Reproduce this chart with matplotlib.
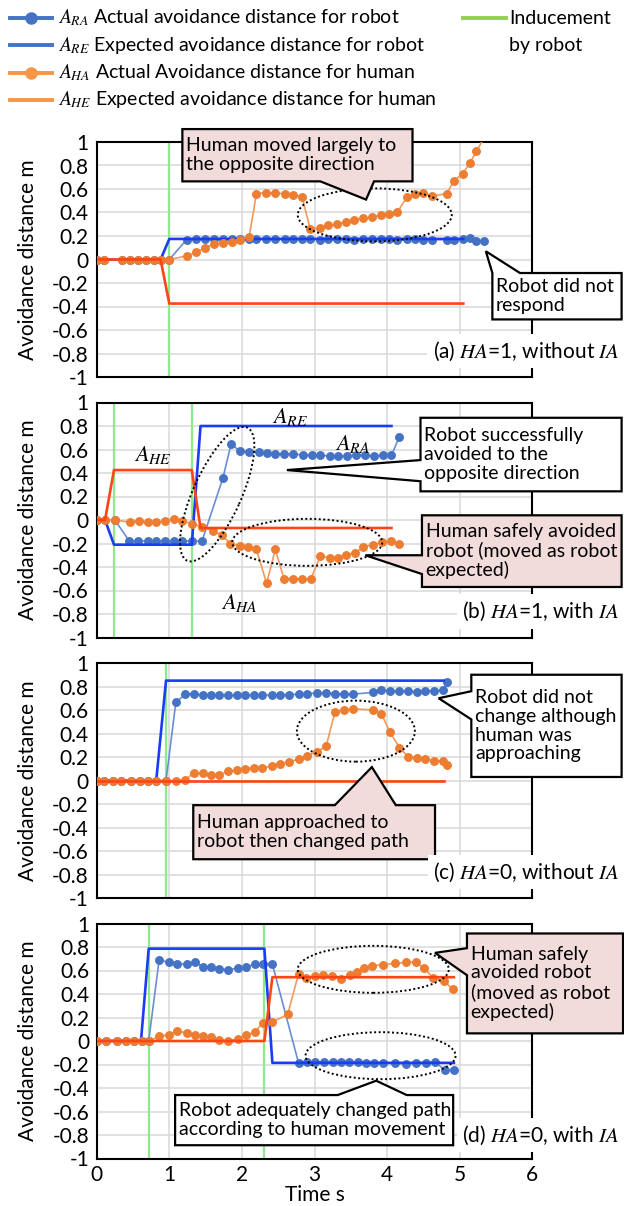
import numpy as np
import matplotlib
matplotlib.use("Agg")
import matplotlib.pyplot as plt
from matplotlib.patches import Polygon, Ellipse
from matplotlib.lines import Line2D
from matplotlib.transforms import ScaledTranslation

plt.rcParams["font.family"] = ["Lato", "DejaVu Sans"]
plt.rcParams["mathtext.fontset"] = "stix"

DPI = 100
W, H = 624, 1206

# ---- (a) HA=1, without IA ----
a_t = [0, 0.10, 0.35, 0.46, 0.57, 0.68, 0.79, 0.88, 1.00, 1.24, 1.37, 1.49, 1.61, 1.74,
       1.86, 1.97, 2.10, 2.20, 2.33, 2.46, 2.59, 2.71, 2.83, 2.94, 3.07, 3.19, 3.31, 3.43,
       3.55, 3.67, 3.79, 3.92, 4.03, 4.14, 4.27, 4.38, 4.50, 4.62, 4.82, 4.92, 5.04, 5.14,
       5.23, 5.34]
a_robot = [0, 0, 0, 0, 0, 0, 0, 0, 0, 0.17, 0.175, 0.175, 0.175, 0.175,
           0.175, 0.175, 0.175, 0.175, 0.175, 0.175, 0.175, 0.175, 0.175, 0.175, 0.17, 0.175, 0.175, 0.175,
           0.17, 0.175, 0.175, 0.175, 0.175, 0.17, 0.175, 0.175, 0.17, 0.17, 0.17, 0.17, 0.175, 0.18,
           0.155, 0.155]
a_human = [0, 0, 0, 0, 0, 0, 0, 0, 0, 0.03, 0.06, 0.10, 0.13, 0.14,
           0.15, 0.17, 0.19, 0.56, 0.57, 0.565, 0.56, 0.55, 0.53, 0.26, 0.27, 0.29, 0.30, 0.32,
           0.34, 0.35, 0.36, 0.38, 0.39, 0.40, 0.53, 0.56, 0.57, 0.54, 0.56, 0.67, 0.73, 0.82,
           0.92, 1.04]
a_re_t = [0, 0.88, 1.00, 5.05]
a_re = [0, 0, 0.175, 0.175]
a_he_t = [0, 0.88, 1.00, 5.05]
a_he = [0, 0, -0.375, -0.375]
a_induce = [1.0]

# ---- (b) HA=1, with IA ----
b_robot_t = [0, 0.11, 0.25, 0.45, 0.57, 0.70, 0.82, 0.94, 1.06, 1.18, 1.31, 1.45, 1.74, 1.85,
             1.97, 2.10, 2.23, 2.34, 2.46, 2.58, 2.71, 2.84, 2.96, 3.08, 3.21, 3.33, 3.45, 3.57,
             3.70, 3.82, 3.94, 4.06, 4.17]
b_robot = [0, 0, 0, -0.18, -0.18, -0.18, -0.18, -0.18, -0.18, -0.18, -0.18, -0.18, 0.36, 0.645,
           0.59, 0.58, 0.575, 0.57, 0.565, 0.56, 0.56, 0.555, 0.55, 0.55, 0.545, 0.545, 0.545, 0.55,
           0.55, 0.545, 0.55, 0.55, 0.71]
b_human_t = [0, 0.11, 0.25, 0.46, 0.58, 0.70, 0.82, 0.94, 1.06, 1.18, 1.31, 1.45, 1.60, 1.72,
             1.84, 1.97, 2.09, 2.20, 2.34, 2.46, 2.58, 2.71, 2.83, 2.95, 3.08, 3.21, 3.33, 3.44,
             3.56, 3.67, 3.80, 3.93, 4.05, 4.16]
b_human = [0, 0, 0, -0.02, -0.01, -0.02, -0.02, -0.01, 0.01, -0.01, -0.03, -0.06, -0.09, -0.13,
           -0.20, -0.22, -0.23, -0.25, -0.54, -0.25, -0.50, -0.50, -0.50, -0.50, -0.31, -0.32, -0.32, -0.30,
           -0.28, -0.23, -0.21, -0.19, -0.18, -0.20]
b_re_t = [0, 0.115, 0.238, 1.31, 1.43, 4.06]
b_re = [0, 0, -0.21, -0.21, 0.80, 0.80]
b_he_t = [0, 0.115, 0.238, 1.31, 1.43, 4.06]
b_he = [0, 0, 0.425, 0.425, -0.068, -0.068]
b_induce = [0.24, 1.31]

# ---- (c) HA=0, without IA ----
c_t = [0, 0.10, 0.22, 0.34, 0.47, 0.59, 0.70, 0.82, 0.955, 1.09, 1.22, 1.34, 1.46, 1.57,
       1.69, 1.81, 1.93, 2.04, 2.16, 2.28, 2.41, 2.53, 2.65, 2.78, 2.90, 3.03, 3.16, 3.28,
       3.41, 3.53, 3.81, 3.92, 4.04, 4.17, 4.29, 4.41, 4.52, 4.64, 4.77, 4.83]
c_robot = [0, 0, 0, 0, 0, 0, 0, 0, 0, 0.665, 0.735, 0.735, 0.73, 0.73,
           0.725, 0.725, 0.725, 0.725, 0.725, 0.73, 0.725, 0.73, 0.73, 0.735, 0.74, 0.745, 0.745, 0.74,
           0.735, 0.735, 0.75, 0.77, 0.765, 0.76, 0.76, 0.755, 0.76, 0.765, 0.77, 0.835]
c_human = [0, 0, 0, 0, 0, 0, 0, 0, 0, 0.0, 0.005, 0.066, 0.06, 0.046,
           0.046, 0.08, 0.086, 0.10, 0.11, 0.11, 0.12, 0.14, 0.16, 0.18, 0.21, 0.245, 0.29, 0.58,
           0.60, 0.61, 0.60, 0.57, 0.41, 0.28, 0.20, 0.19, 0.18, 0.17, 0.165, 0.13]
c_re_t = [0, 0.82, 0.955, 4.78]
c_re = [0, 0, 0.85, 0.85]
c_he_t = [0, 4.78]
c_he = [0, 0]
c_induce = [0.95]

# ---- (d) HA=0, with IA ----
d_robot_t = [0, 0.13, 0.28, 0.40, 0.51, 0.62, 0.716, 0.86, 0.99, 1.11, 1.24, 1.35, 1.46, 1.57,
             1.69, 1.81, 1.94, 2.06, 2.18, 2.29, 2.42, 2.78, 2.89, 3.01, 3.13, 3.25, 3.37, 3.48,
             3.60, 3.71, 3.82, 3.95, 4.11, 4.26, 4.40, 4.53, 4.66, 4.80, 4.92]
d_robot = [0, 0, 0, 0, 0, 0, 0, 0.69, 0.67, 0.657, 0.654, 0.669, 0.634, 0.626,
           0.614, 0.606, 0.62, 0.63, 0.654, 0.654, 0.654, -0.186, -0.18, -0.18, -0.18, -0.18, -0.18, -0.18,
           -0.18, -0.185, -0.185, -0.19, -0.19, -0.195, -0.19, -0.19, -0.18, -0.25, -0.245]
d_human_t = [0, 0.13, 0.28, 0.40, 0.51, 0.62, 0.716, 0.86, 0.99, 1.11, 1.24, 1.35, 1.46, 1.57,
             1.69, 1.81, 1.94, 2.06, 2.18, 2.29, 2.42, 2.63, 2.78, 2.88, 3.01, 3.12, 3.24, 3.36,
             3.49, 3.59, 3.68, 3.79, 3.94, 4.11, 4.26, 4.40, 4.51, 4.63, 4.78, 4.91]
d_human = [0, 0, 0, 0, 0, 0, 0, 0.04, 0.054, 0.083, 0.071, 0.054, 0.043, 0.034,
           0.006, 0.0, 0.02, 0.05, 0.077, 0.157, 0.163, 0.226, 0.57, 0.54, 0.55, 0.56, 0.55, 0.53,
           0.56, 0.59, 0.62, 0.64, 0.65, 0.66, 0.67, 0.67, 0.62, 0.54, 0.51, 0.44]
d_re_t = [0, 0.61, 0.716, 2.31, 2.42, 4.92]
d_re = [0, 0, 0.786, 0.786, -0.186, -0.186]
d_he_t = [0, 2.31, 2.42, 4.92]
d_he = [0, 0, 0.543, 0.543]
d_induce = [0.716, 2.31]

panel_labels = ["(a) $HA$=1, without $IA$", "(b) $HA$=1, with $IA$",
                "(c) $HA$=0, without $IA$", "(d) $HA$=0, with $IA$"]
legend_labels = ["$A_{RA}$ Actual avoidance distance for robot",
                 "$A_{RE}$ Expected avoidance distance for robot",
                 "$A_{HA}$ Actual Avoidance distance for human",
                 "$A_{HE}$ Expected avoidance distance for human"]

ROBOT = "#4472C4"
ROBOT_LINE = "#6A8ED4"
HUMAN = "#ED7D31"
HUMAN_LINE = "#F2995E"
ROBOT_EXP = "#1A3CF5"
HUMAN_EXP = "#FF4514"
GREEN = "#8EEA8E"
PINK = "#F2DCDB"
FS = 15
FS_BOX = 14
FS_LEG = 14


def callout(ax, box, side, base, tip, text, face="white", size=FS_BOX):
    x0, y0, x1, y1 = box
    b0, b1 = base
    pts = [(x0, y0)]
    if side == "left":
        pts += [(x0, b0), tip, (x0, b1)]
    pts += [(x0, y1)]
    if side == "top":
        pts += [(b0, y1), tip, (b1, y1)]
    pts += [(x1, y1), (x1, y0)]
    if side == "bottom":
        pts += [(b1, y0), tip, (b0, y0)]
    ax.add_patch(Polygon(pts, closed=True, fc=face, ec="black", lw=1.6,
                         clip_on=False, zorder=10))
    ax.text(x0 + 0.05, (y0 + y1) / 2, text, ha="left", va="center", fontsize=size,
            linespacing=1.12, zorder=11, clip_on=False)


def ring(ax, cx, cy, w, h, angle=0):
    # size given in pixels so the ellipse is not stretched by the axis scales
    tr = ax.figure.dpi_scale_trans + ScaledTranslation(cx, cy, ax.transData)
    ax.add_patch(Ellipse((0, 0), w / DPI, h / DPI, angle=angle, transform=tr,
                         fill=False, ec="black", lw=1.4, ls=(0, (1, 1.3)),
                         zorder=9, clip_on=False))


def draw_series(ax, rt, rv, ht, hv, ret, rev, het, hev, induce):
    for x in induce:
        ax.axvline(x, color=GREEN, lw=1.6, zorder=1.5)
    ax.plot(rt, rv, color=ROBOT_LINE, lw=1.2, marker="o", ms=5.4,
            mfc=ROBOT, mec=ROBOT, zorder=2)
    ax.plot(ret, rev, color=ROBOT_EXP, lw=1.9, zorder=3)
    ax.plot(ht, hv, color=HUMAN_LINE, lw=1.2, marker="o", ms=5.4,
            mfc=HUMAN, mec=HUMAN, zorder=4)
    ax.plot(het, hev, color=HUMAN_EXP, lw=1.9, zorder=5)


fig = plt.figure(figsize=(W / DPI, H / DPI), dpi=DPI)
tops = [142, 402.5, 663, 923.5]
axes = []
yt = np.round(np.linspace(-1, 1, 11), 1) + 0.0
for i, top in enumerate(tops):
    ax = fig.add_axes([96.7 / W, 1 - (top + 235) / H, 435.6 / W, 235 / H])
    ax.set_xlim(0, 6)
    ax.set_ylim(-1, 1)
    ax.set_xticks(range(7))
    ax.set_yticks(yt)
    ax.set_yticklabels([f"{v:g}" for v in yt])
    ax.grid(True, color="#D9D9D9", lw=1.1, zorder=0)
    ax.set_axisbelow(True)
    ax.tick_params(length=0, labelsize=FS, pad=6)
    for s in ax.spines.values():
        s.set_linewidth(1.5)
        s.set_color("black")
    if i < 3:
        ax.tick_params(labelbottom=False)
    ax.text(-0.158, 0.5, "Avoidance distance m", transform=ax.transAxes, rotation=90,
            ha="center", va="center", fontsize=FS)
    ax.text(7.2, -0.78 if i < 3 else -0.8, panel_labels[i], ha="right", va="center",
            fontsize=FS, zorder=12, clip_on=False,
            bbox=dict(fc="white", ec="none", pad=4))
    axes.append(ax)

ax_a, ax_b, ax_c, ax_d = axes
draw_series(ax_a, a_t, a_robot, a_t, a_human, a_re_t, a_re, a_he_t, a_he, a_induce)
draw_series(ax_b, b_robot_t, b_robot, b_human_t, b_human, b_re_t, b_re, b_he_t, b_he, b_induce)
draw_series(ax_c, c_t, c_robot, c_t, c_human, c_re_t, c_re, c_he_t, c_he, c_induce)
draw_series(ax_d, d_robot_t, d_robot, d_human_t, d_human, d_re_t, d_re, d_he_t, d_he, d_induce)

ax_d.tick_params(pad=5)
ax_d.set_xlabel("Time s", fontsize=FS, labelpad=0)

# (a) annotations
ring(ax_a, 3.83, 0.38, 154, 53)
callout(ax_a, (1.18, 0.665, 4.35, 1.11), "bottom", (3.08, 3.82), (3.71, 0.51),
        "Human moved largely to\nthe opposite direction", PINK)
callout(ax_a, (5.45, -0.51, 7.23, -0.115), "top", (5.45, 5.83), (5.36, 0.07),
        "Robot did not\nrespond")

# (b) annotations
ax_b.text(2.66, 0.88, "$A_{RE}$", fontsize=FS + 1, ha="center", va="center")
ax_b.text(3.53, 0.65, "$A_{RA}$", fontsize=FS + 1, ha="center", va="center")
ax_b.text(0.78, 0.55, "$A_{HE}$", fontsize=FS + 1, ha="center", va="center")
ax_b.text(1.96, -0.71, "$A_{HA}$", fontsize=FS + 1, ha="center", va="center")
ring(ax_b, 1.66, 0.22, 146, 48, angle=65.7)
ring(ax_b, 2.9, -0.19, 150, 47)
callout(ax_b, (4.46, 0.244, 7.23, 0.87), "left", (0.33, 0.51), (2.62, 0.425),
        "Robot successfully\navoided to the\nopposite direction")
callout(ax_b, (4.48, -0.57, 7.23, 0.04), "left", (-0.46, -0.30), (3.70, -0.30),
        "Human safely avoided\nrobot (moved as robot\nexpected)", PINK)

# (c) annotations
ring(ax_c, 3.57, 0.42, 118, 61)
callout(ax_c, (5.16, 0.03, 7.23, 0.9), "left", (0.52, 0.76), (4.71, 0.70),
        "Robot did not\nchange although\nhuman was\napproaching")
callout(ax_c, (1.33, -0.67, 4.66, -0.21), "top", (3.28, 4.12), (3.79, 0.114),
        "Human approached to\nrobot then changed path", PINK)

# (d) annotations
ring(ax_d, 3.81, 0.61, 151, 47)
ring(ax_d, 3.91, -0.125, 150, 47)
callout(ax_d, (5.10, 0.065, 7.25, 0.915), "left", (0.56, 0.79), (4.66, 0.75),
        "Human safely\navoided robot\n(moved as robot\nexpected)", PINK)
callout(ax_d, (1.08, -0.887, 4.91, -0.46), "top", (3.32, 4.27), (3.85, -0.338),
        "Robot adequately changed path\naccording to human movement")

# legend drawn by hand at the top of the figure
def fx(px):
    return px / W


def fy(py):
    return 1 - py / H


rows = [18, 45, 73, 100]
styles = [(ROBOT, True), (ROBOT, False), ("#F79646", True), ("#F79646", False)]
for py, (col, mk), lab in zip(rows, styles, legend_labels):
    fig.add_artist(Line2D([fx(10), fx(52)], [fy(py), fy(py)], color=col, lw=2.8,
                          transform=fig.transFigure))
    if mk:
        fig.add_artist(Line2D([fx(31)], [fy(py)], color=col, marker="o", ms=8,
                              transform=fig.transFigure))
    fig.text(fx(58), fy(py), lab, fontsize=FS_LEG, ha="left", va="center")
fig.add_artist(Line2D([fx(463), fx(506)], [fy(rows[0]), fy(rows[0])], color="#92D050",
                      lw=2.8, transform=fig.transFigure))
fig.text(fx(509), fy(rows[0]), "Inducement", fontsize=FS_LEG, ha="left", va="center")
fig.text(fx(509), fy(rows[1]), "by robot", fontsize=FS_LEG, ha="left", va="center")

fig.savefig("out.png", dpi=DPI)
